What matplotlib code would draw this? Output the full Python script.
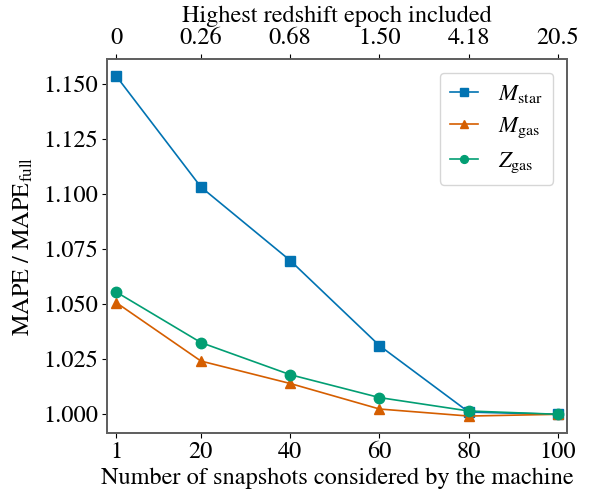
import matplotlib
matplotlib.use("Agg")
import matplotlib.pyplot as plt

plt.rcParams['font.family'] = ['STIXGeneral', 'DejaVu Serif']
plt.rcParams['mathtext.fontset'] = 'stix'

snapshots = [1, 20, 40, 60, 80, 100]
redshift_labels = ['0', '0.26', '0.68', '1.50', '4.18', '20.5']
m_star = [1.1538, 1.1033, 1.0699, 1.0312, 1.0010, 1.0000]
m_gas = [1.0508, 1.0242, 1.0140, 1.0024, 0.9992, 1.0000]
z_gas = [1.0556, 1.0326, 1.0180, 1.0076, 1.0015, 1.0000]

colors = ['#0173b2', '#d55e00', '#029e73']

fig = plt.figure(figsize=(5.89, 4.91), dpi=100)
ax = fig.add_axes([0.182, 0.118, 0.7806, 0.762])

ax.plot(snapshots, m_star, marker='s', color=colors[0], lw=1.2, ms=7, label=r'$M_{\rm star}$')
ax.plot(snapshots, m_gas, marker='^', color=colors[1], lw=1.2, ms=7.5, label=r'$M_{\rm gas}$')
ax.plot(snapshots, z_gas, marker='o', color=colors[2], lw=1.2, ms=7.5, label=r'$Z_{\rm gas}$')

ax.set_xlim(-1, 102)
ax.set_xticks(snapshots)
ax.set_yticks([1.000, 1.025, 1.050, 1.075, 1.100, 1.125, 1.150])
ax.set_yticklabels(['1.000', '1.025', '1.050', '1.075', '1.100', '1.125', '1.150'])
ax.tick_params(labelsize=17.5, pad=3)
ax.set_xlabel('Number of snapshots considered by the machine', fontsize=17.5, labelpad=3)
ax.set_ylabel(r'MAPE / MAPE$_{\rm full}$', fontsize=17.5, labelpad=6)

for s in ax.spines.values():
    s.set_color('#606060')
    s.set_linewidth(1.3)

ax2 = ax.twiny()
ax2.set_xlim(ax.get_xlim())
ax2.set_xticks(snapshots)
ax2.set_xticklabels(redshift_labels)
ax2.tick_params(labelsize=17.5, pad=4)
ax2.set_xlabel('Highest redshift epoch included', fontsize=17.5, labelpad=4)
for s in ax2.spines.values():
    s.set_color('#606060')
    s.set_linewidth(1.3)

leg = ax.legend(fontsize=16.5, loc='upper right', frameon=True, handlelength=1.2,
                markerscale=0.75, borderaxespad=0.6, labelspacing=0.45,
                handletextpad=0.9, borderpad=0.45)

fig.savefig('out.png', dpi=100)
